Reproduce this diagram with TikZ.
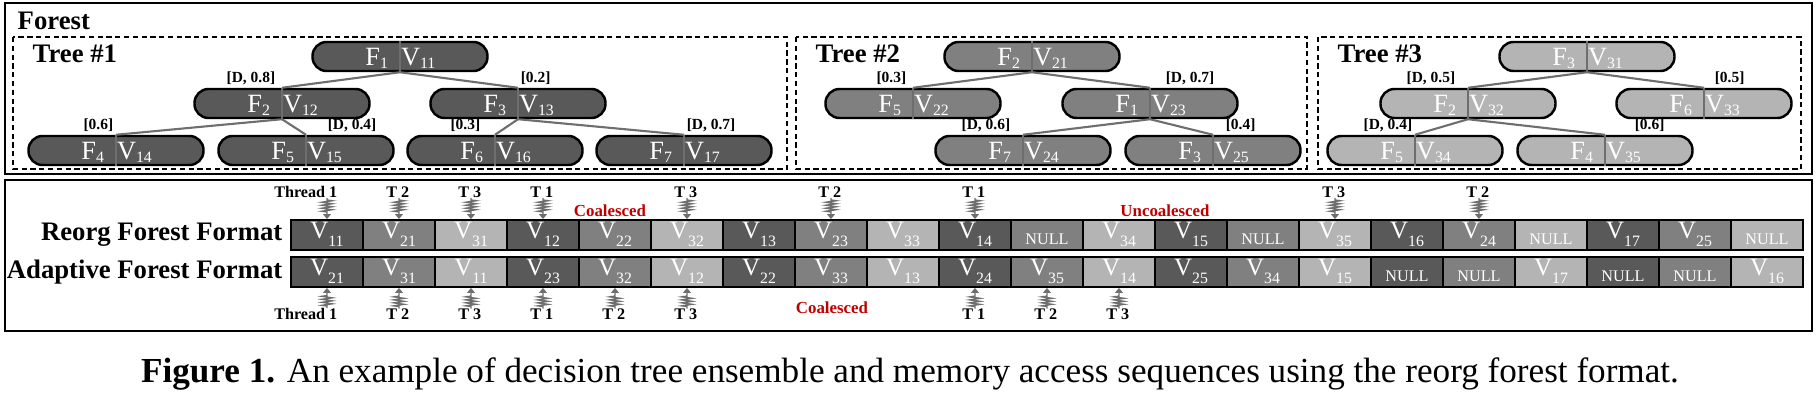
\documentclass[tikz,border=0pt]{standalone}
\usepackage{fontspec}
\setmainfont{Liberation Serif}
\usepackage{tikz}
\usetikzlibrary{arrows.meta,positioning,decorations.pathmorphing}

\definecolor{dk}{RGB}{89,89,89}
\definecolor{md}{RGB}{128,128,128}
\definecolor{lt}{RGB}{180,180,180}
\definecolor{linkgray}{RGB}{110,110,110}
\definecolor{hotred}{RGB}{192,0,0}

% subscript dropped below the baseline
\newcommand{\idx}[2][0.03cm]{\raisebox{-#1}{\fontsize{4.5}{4.5}\selectfont #2}}
% F | V pair of a tree node, split at the centre
\newcommand{\fv}[2]{\makebox[0.87cm][r]{F\idx{#1}\hspace{0.12cm}}\makebox[0.87cm][l]{\hspace{0.01cm}V\idx{#2}}}
\newcommand{\vx}[1]{V\idx[0.08cm]{#1}}
\newcommand{\nulcell}{\raisebox{-0.06cm}{\fontsize{4.6}{4.6}\selectfont NULL}}

\begin{document}
\begin{tikzpicture}[
  pill/.style={draw, line width=0.7pt, fill=#1, rounded corners=1.4mm,
               minimum width=1.75cm, minimum height=0.29cm, inner sep=0pt,
               text height=0.24cm, text depth=0.05cm, text=white,
               font=\fontsize{7.5}{8}\selectfont},
  cellbox/.style={draw, line width=0.55pt, fill=#1, minimum width=0.72cm,
                  minimum height=0.30cm, inner sep=0pt, text height=0.19cm,
                  text depth=0.11cm, text=white, font=\fontsize{7.1}{8}\selectfont},
  link/.style={linkgray, line width=0.6pt},
  lbl/.style={text=black, font=\fontsize{4.4}{5}\selectfont\bfseries, inner sep=0.5pt},
  coil/.style={linkgray, line width=0.4pt, decorate,
               decoration={zigzag, amplitude=0.05cm, segment length=0.03cm,
                           pre length=0.02cm, post length=0.07cm},
               -{Triangle[length=0.05cm, width=0.08cm]}},
  thrlbl/.style={font=\fontsize{4.6}{5}\selectfont\bfseries, inner sep=0pt},
  hotlbl/.style={text=hotred, font=\fontsize{4.8}{5}\selectfont\bfseries, inner sep=0pt},
  outer/.style={draw, line width=0.85pt},
  treebox/.style={draw, line width=0.55pt, dash pattern=on 1.5pt off 1pt},
  ttl/.style={font=\fontsize{7.6}{8}\selectfont\bfseries, inner sep=0pt},
]
\useasboundingbox (0,0) rectangle (18.2,-4.1);

% Frames
\draw[outer] (0.05,-0.03) rectangle (18.12,-1.74);
\draw[outer] (0.05,-1.80) rectangle (18.12,-3.31);
\draw[treebox] (0.13,-0.37) rectangle (7.87,-1.69);
\draw[treebox] (7.96,-0.37) rectangle (13.07,-1.69);
\draw[treebox] (13.18,-0.37) rectangle (18.01,-1.69);
\node[ttl, anchor=base west] (forest) at (0.17,-0.30) {Forest};
\node[ttl, anchor=base west] (tree1) at (0.32,-0.63) {Tree \#1};
\node[ttl, anchor=base west] (tree2) at (8.15,-0.63) {Tree \#2};
\node[ttl, anchor=base west] (tree3) at (13.37,-0.63) {Tree \#3};

% Tree #1
\node[pill=dk] (v11) at (4.00,-0.565) {\fv{1}{11}};
\node[pill=dk] (v12) at (2.82,-1.035) {\fv{2}{12}};
\node[pill=dk] (v13) at (5.18,-1.035) {\fv{3}{13}};
\node[pill=dk] (v14) at (1.16,-1.505) {\fv{4}{14}};
\node[pill=dk] (v15) at (3.06,-1.505) {\fv{5}{15}};
\node[pill=dk] (v16) at (4.95,-1.505) {\fv{6}{16}};
\node[pill=dk] (v17) at (6.84,-1.505) {\fv{7}{17}};
% Tree #2
\node[pill=md] (v21) at (10.32,-0.565) {\fv{2}{21}};
\node[pill=md] (v22) at (9.13,-1.035)  {\fv{5}{22}};
\node[pill=md] (v23) at (11.50,-1.035) {\fv{1}{23}};
\node[pill=md] (v24) at (10.23,-1.505) {\fv{7}{24}};
\node[pill=md] (v25) at (12.13,-1.505) {\fv{3}{25}};
% Tree #3
\node[pill=lt] (v31) at (15.87,-0.565) {\fv{3}{31}};
\node[pill=lt] (v32) at (14.68,-1.035) {\fv{2}{32}};
\node[pill=lt] (v33) at (17.04,-1.035) {\fv{6}{33}};
\node[pill=lt] (v34) at (14.15,-1.505) {\fv{5}{34}};
\node[pill=lt] (v35) at (16.05,-1.505) {\fv{4}{35}};
\foreach \n in {v11,v12,v13,v14,v15,v16,v17,v21,v22,v23,v24,v25,v31,v32,v33,v34,v35}
  \draw[link, line width=0.5pt] (\n.north) -- (\n.south);

% Branches
\draw[link] (v11.south) -- (v12.north) node[lbl, anchor=south east, xshift=-0.04cm] {[D, 0.8]};
\draw[link] (v11.south) -- (v13.north) node[lbl, anchor=south west] {[0.2]};
\draw[link] (v12.south) -- (v14.north) node[lbl, anchor=south east] {[0.6]};
\draw[link] (v12.south) -- (v15.north) node[lbl, anchor=south west, xshift=0.19cm] {[D, 0.4]};
\draw[link] (v13.south) -- (v16.north) node[lbl, anchor=south east, xshift=-0.12cm] {[0.3]};
\draw[link] (v13.south) -- (v17.north) node[lbl, anchor=south west] {[D, 0.7]};
\draw[link] (v21.south) -- (v22.north) node[lbl, anchor=south east, xshift=-0.04cm] {[0.3]};
\draw[link] (v21.south) -- (v23.north) node[lbl, anchor=south west, xshift=0.13cm] {[D, 0.7]};
\draw[link] (v23.south) -- (v24.north) node[lbl, anchor=south east, xshift=-0.10cm] {[D, 0.6]};
\draw[link] (v23.south) -- (v25.north) node[lbl, anchor=south west, xshift=0.10cm] {[0.4]};
\draw[link] (v31.south) -- (v32.north) node[lbl, anchor=south east, xshift=-0.10cm] {[D, 0.5]};
\draw[link] (v31.south) -- (v33.north) node[lbl, anchor=south west, xshift=0.08cm] {[0.5]};
\draw[link] (v32.south) -- (v34.north) node[lbl, anchor=south east] {[D, 0.4]};
\draw[link] (v32.south) -- (v35.north) node[lbl, anchor=south west, xshift=0.27cm] {[0.6]};

% Memory layouts
\foreach \c/\v [count=\i, evaluate=\i as \x using 2.55+0.72*\i] in
  {dk/\vx{11},md/\vx{21},lt/\vx{31},dk/\vx{12},md/\vx{22},lt/\vx{32},dk/\vx{13},
   md/\vx{23},lt/\vx{33},dk/\vx{14},md/\nulcell,lt/\vx{34},dk/\vx{15},md/\nulcell,
   lt/\vx{35},dk/\vx{16},md/\vx{24},lt/\nulcell,dk/\vx{17},md/\vx{25},lt/\nulcell}
  \node[cellbox=\c] (r\i) at (\x,-2.35) {\v};
\foreach \c/\v [count=\i, evaluate=\i as \x using 2.55+0.72*\i] in
  {dk/\vx{21},md/\vx{31},lt/\vx{11},dk/\vx{23},md/\vx{32},lt/\vx{12},dk/\vx{22},
   md/\vx{33},lt/\vx{13},dk/\vx{24},md/\vx{35},lt/\vx{14},dk/\vx{25},md/\vx{34},
   lt/\vx{15},dk/\nulcell,md/\nulcell,lt/\vx{17},dk/\nulcell,md/\nulcell,lt/\vx{16}}
  \node[cellbox=\c] (a\i) at (\x,-2.72) {\v};
\node[ttl, left=0.07cm of r1] (reorg) {Reorg Forest Format};
\node[ttl, left=0.07cm of a1] (adapt) {Adaptive Forest Format};

% Thread accesses
\foreach \i/\t in {1/Thread 1,2/T 2,3/T 3,4/T 1,6/T 3,8/T 2,10/T 1,15/T 3,17/T 2} {
  \node[thrlbl, anchor=base east] (tr\i) at ([xshift=0.11cm]r\i.north |- 0,-1.98) {\t};
  \draw[coil] (r\i.north |- tr\i.base) -- (r\i.north);
}
\foreach \i/\t in {1/Thread 1,2/T 2,3/T 3,4/T 1,5/T 2,6/T 3,10/T 1,11/T 2,12/T 3} {
  \node[thrlbl, anchor=base east] (ta\i) at ([xshift=0.11cm]a\i.south |- 0,-3.20) {\t};
  \draw[coil] (a\i.south |- ta\i.north) -- (a\i.south);
}
\node[hotlbl, anchor=base] (coal1) at (6.10,-2.17) {Coalesced};
\node[hotlbl, anchor=base] (uncoal) at (11.65,-2.17) {Uncoalesced};
\node[hotlbl, anchor=base] (coal2) at (8.32,-3.14) {Coalesced};

% Caption
\node[anchor=base, font=\fontsize{10}{12}\selectfont] (cap) at (9.10,-3.83)
  {\textbf{Figure 1.} An example of decision tree ensemble and memory access sequences using the reorg forest format.};
\end{tikzpicture}
\end{document}
